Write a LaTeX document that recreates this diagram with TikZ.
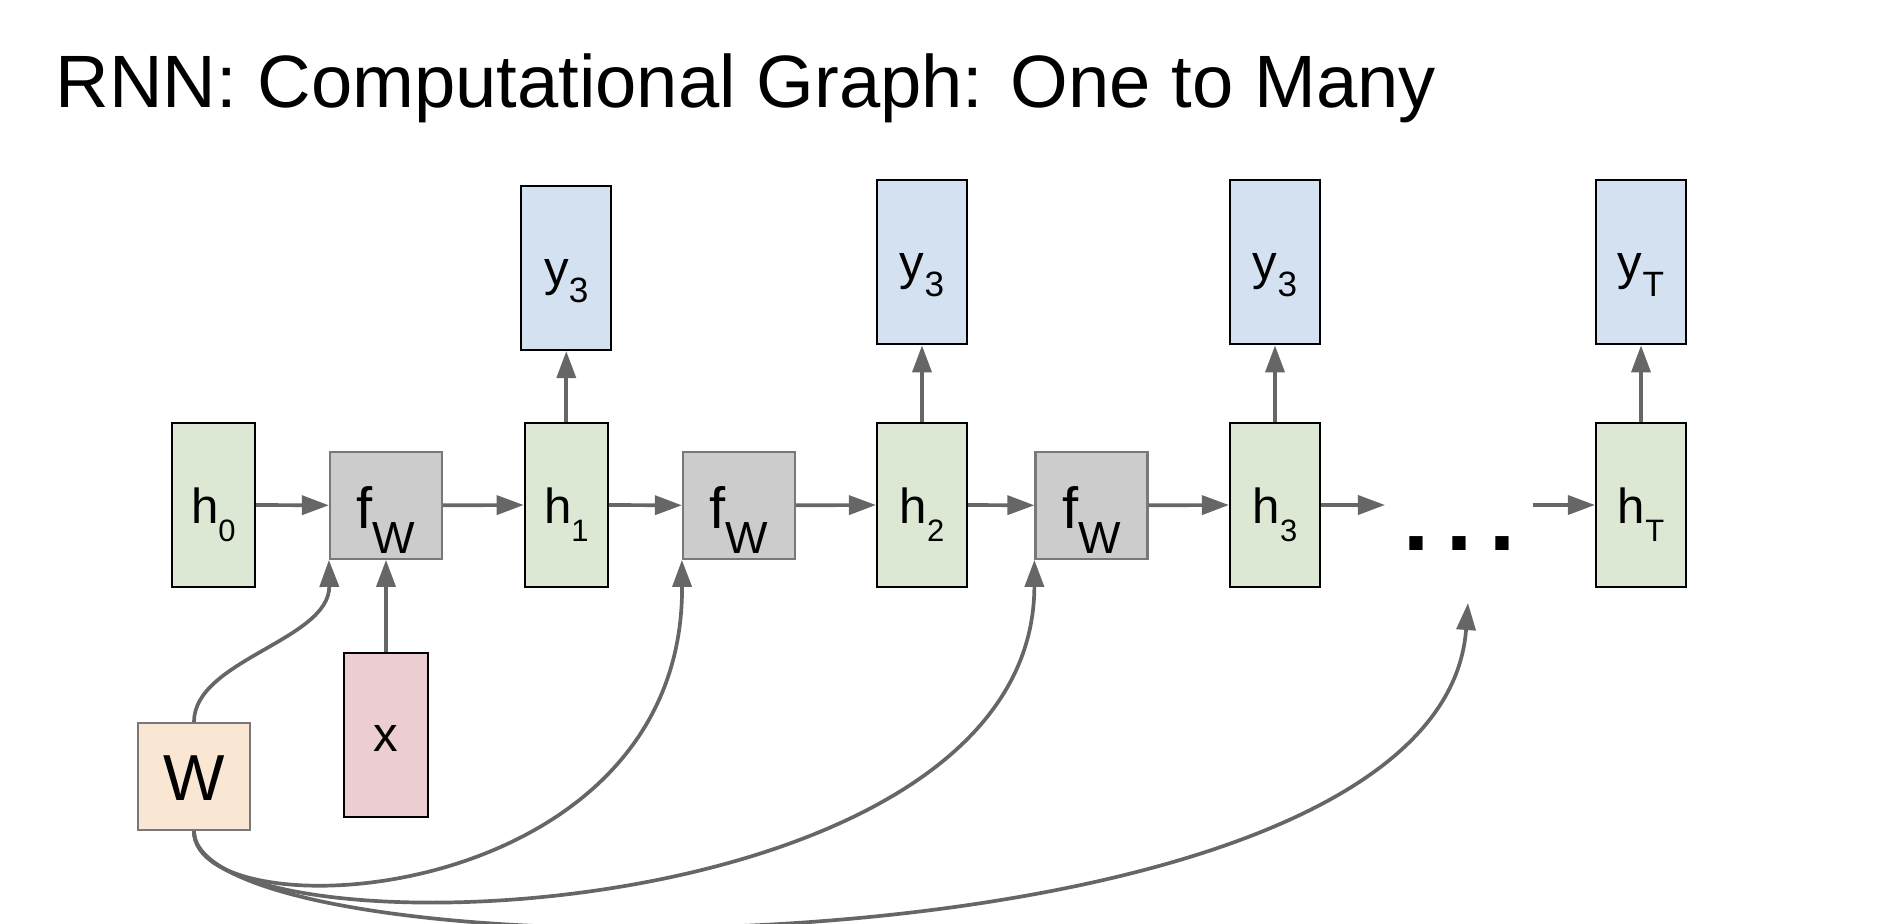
\documentclass[tikz,border=0pt]{standalone}
\usepackage{fontspec}
\setmainfont{Liberation Sans}
\usetikzlibrary{arrows.meta}
\definecolor{hgreen}{RGB}{221,232,212}
\definecolor{yblue}{RGB}{212,225,241}
\definecolor{fgray}{RGB}{204,204,204}
\definecolor{xpink}{RGB}{236,205,209}
\definecolor{wtan}{RGB}{249,230,211}
\definecolor{edgegray}{RGB}{120,120,120}
\definecolor{arrowgray}{RGB}{102,102,102}
\newcommand{\hlab}[1]{h\raisebox{-5.2pt}{\fontsize{8.8pt}{9pt}\selectfont #1}}
\newcommand{\ylab}[1]{y\raisebox{-4.8pt}{\fontsize{10pt}{10pt}\selectfont #1}}
\newcommand{\flab}{f\raisebox{-7.1pt}{\fontsize{12.8pt}{13pt}\selectfont W}\hspace{6.5pt}}
\begin{document}
\begin{tikzpicture}[x=0.01cm, y=-0.01cm,
    box/.style={draw, line width=0.6pt, inner sep=0pt, text depth=0pt},
    hbox/.style={box, fill=hgreen, minimum width=0.9cm, minimum height=1.635cm,
      text height=10.4pt, font=\fontsize{14pt}{14pt}\selectfont},
    ybox/.style={box, fill=yblue, minimum width=0.9cm, minimum height=1.64cm,
      text height=10pt, font=\fontsize{14pt}{14pt}\selectfont},
    fbox/.style={box, draw=edgegray, fill=fgray, minimum width=1.12cm, minimum height=1.07cm,
      text height=13pt, font=\fontsize{16.5pt}{17pt}\selectfont},
    xbox/.style={box, fill=xpink, minimum width=0.84cm, minimum height=1.64cm,
      text height=9.5pt, font=\fontsize{14pt}{14pt}\selectfont},
    wbox/.style={box, draw=edgegray, fill=wtan, minimum width=1.12cm, minimum height=1.07cm,
      text height=13.4pt, font=\fontsize{18.5pt}{19pt}\selectfont},
    dotsbox/.style={inner sep=0pt, font=\fontsize{26.6pt}{27pt}\selectfont\bfseries},
    link/.style={draw=arrowgray, line width=1.05pt, -{Triangle[length=0.27cm, width=0.19cm]}}]
  \useasboundingbox (0,0) rectangle (1878,924);
  \node[anchor=base west, inner sep=0pt, font=\fontsize{21.1pt}{24pt}\selectfont] (title) at (55,107)
    {RNN: Computational Graph: One to Many};

  % hidden states and cells
  \node[hbox, minimum width=0.83cm] (h0) at (213.3,505) {\hlab{0}};
  \node[fbox] (f1) at (386,505.3) {\flab};
  \node[hbox, minimum width=0.83cm] (h1) at (566.3,505) {\hlab{1}};
  \node[fbox] (f2) at (739,505.3) {\flab};
  \node[hbox] (h2) at (922,505) {\hlab{2}};
  \node[fbox] (f3) at (1091.5,505.3) {\flab};
  \node[hbox] (h3) at (1275,505) {\hlab{3}};
  \node[dotsbox] (dots) at (1459.3,543.3) {.\hspace{4.75pt}.\hspace{4.75pt}.};
  \node[hbox] (hT) at (1641,505) {\hlab{T}};

  % outputs
  \node[ybox] (y1) at (566.3,268) {\ylab{3}};
  \node[ybox] (y2) at (922,262.3) {\ylab{3}};
  \node[ybox] (y3) at (1275,262.3) {\ylab{3}};
  \node[ybox] (yT) at (1641,262.3) {\ylab{T}};

  % input and weights
  \node[xbox] (x) at (386,735) {x};
  \node[wbox] (W) at (194,776.5) {W\hspace{4.3pt}};

  \coordinate (out3) at (1385,505);
  \coordinate (inT) at (1533,505);
  \coordinate (wdots) at (1468,603);

  % recurrence
  \draw[link] (h0.east) -- (f1.west);
  \draw[link] (f1.east) -- (h1.west);
  \draw[link] (h1.east) -- (f2.west);
  \draw[link] (f2.east) -- (h2.west);
  \draw[link] (h2.east) -- (f3.west);
  \draw[link] (f3.east) -- (h3.west);
  \draw[link] (h3.east) -- (out3);
  \draw[link] (inT) -- (hT.west);

  % outputs
  \draw[link] (h1.north) -- (y1.south);
  \draw[link] (h2.north) -- (y2.south);
  \draw[link] (h3.north) -- (y3.south);
  \draw[link] (hT.north) -- (yT.south);

  % input and shared weights
  \draw[link] (x.north) -- (f1.south);
  \draw[link] (W.north) .. controls (194,660) and (330,640) .. (f1.south west);
  \draw[link] (W.south) .. controls (194,935) and (684,910) .. (f2.south west);
  \draw[link] (W.south) .. controls (194,960) and (1034,935) .. (f3.south west);
  \draw[link] (W.south) .. controls (194,980) and (1440,990) .. (wdots);
\end{tikzpicture}
\end{document}
